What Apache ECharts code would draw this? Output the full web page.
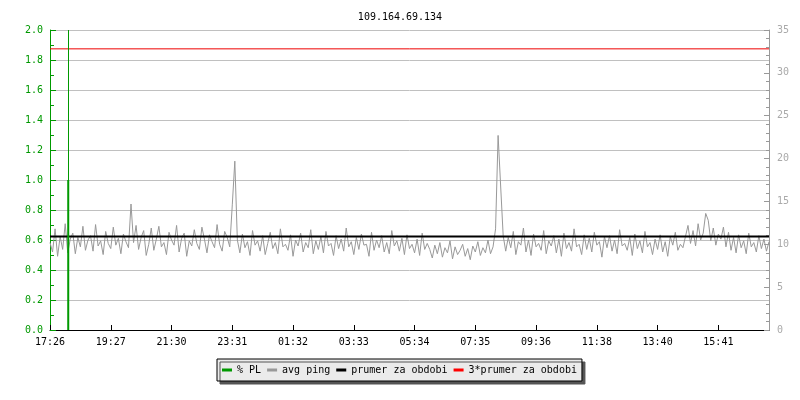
<!DOCTYPE html>
<html>
<head>
<meta charset="utf-8">
<script src="https://cdn.jsdelivr.net/npm/echarts@6/dist/echarts.min.js"></script>
<style>html,body{margin:0;padding:0;background:#fff}#c{width:800px;height:400px}</style>
</head>
<body>
<div id="c"></div>
<script>
var titleText = "109.164.69.134";
var xLabels = ["17:26","19:27","21:30","23:31","01:32","03:33","05:34","07:35","09:36","11:38","13:40","15:41"];
var stepMinutes = 5;
var xMaxMinutes = 1420;
// avg ping (ms), one sample every 5 minutes from 17:26
var avgPing = [
10.2,9.1,11.8,8.6,10.9,9.4,12.4,9.0,10.6,11.3,8.9,10.8,9.7,12.1,9.3,10.5,11.0,9.2,12.3,9.8,10.4,8.8,11.5,10.1,9.5,12.0,9.9,10.7,8.9,11.2,10.3,9.6,14.7,10.2,12.2,9.4,10.8,11.6,8.7,10.0,
11.9,9.3,10.6,12.1,9.7,10.2,8.8,11.4,10.5,9.9,12.2,9.1,10.7,11.3,8.6,10.4,9.8,11.7,10.1,9.4,12.0,10.6,9.0,11.1,10.3,9.6,12.3,10.0,9.2,11.5,10.8,9.7,
14.6,19.7,10.5,
9.0,11.2,9.6,10.3,8.7,11.6,9.9,10.4,9.2,11.0,
8.8,10.1,11.4,9.5,10.2,8.9,11.8,9.7,10.0,9.3,
11.1,8.6,10.5,9.8,11.3,9.1,10.2,9.6,11.7,8.9,
10.4,9.4,10.9,9.0,11.5,9.8,10.1,8.7,11.0,9.5,
10.6,9.2,11.9,9.7,10.3,8.8,10.8,9.4,11.2,9.9,
10.0,8.6,11.4,9.3,10.5,9.6,11.0,9.1,10.2,8.9,
11.6,9.8,10.4,9.2,10.7,8.8,11.1,9.5,10.0,9.0,
10.6,8.7,11.3,9.4,10.1,
9.4,8.4,9.9,8.9,10.2,8.5,9.6,9.0,10.4,8.3,9.7,8.8,9.3,10.0,8.6,9.5,8.2,9.8,9.1,10.3,8.7,9.6,9.0,10.5,8.9,9.7,
11.8,22.7,16.8,11.0,
9.2,10.8,9.6,11.5,8.8,10.3,9.9,11.9,9.1,10.5,
8.7,11.2,9.7,10.1,9.3,11.6,8.9,10.4,9.8,11.0,
9.0,10.6,8.6,11.3,9.5,10.2,9.2,11.8,9.7,10.0,
8.8,11.1,9.4,10.7,9.1,11.4,9.9,10.3,8.5,10.9,
9.6,11.0,9.2,10.5,8.9,11.7,9.8,10.1,9.3,10.8,
8.7,11.2,9.5,10.4,9.0,11.5,9.7,10.2,8.8,10.6,
9.4,11.1,9.1,10.3,8.6,10.9,9.9,11.4,9.3,10.0,9.6,
10.9,12.2,10.1,11.6,9.8,12.4,10.5,11.3,13.6,12.8,10.4,11.9,9.9,11.2,10.6,12.0,9.7,11.4,
9.3,10.8,9.0,11.1,9.6,10.4,8.9,11.3,9.7,10.2,9.1,11.0,9.5,10.6,9.2,10.3
];
var plTimes = [36];
var plValues = [1.0];
var prumer = 10.92;
var prumer3 = 32.8;

var pingData = avgPing.map(function(v,i){return [i*stepMinutes, v];});
var plData = plTimes.map(function(t,i){return [t, plValues[i]];});
var font = "DejaVu Sans Mono";
var green = "#009900";

var chart = echarts.init(document.getElementById('c'), null, {renderer:'canvas'});
chart.setOption({
  animation:false,
  backgroundColor:'#ffffff',
  title:{text:titleText,left:'center',top:7,textStyle:{fontFamily:font,fontSize:10,fontWeight:'normal',color:'#000'}},
  legend:{
    left:217, top:359, padding:[6,5,6,5], itemGap:6, itemWidth:10, itemHeight:3,
    backgroundColor:'#ebebeb', borderColor:'#000', borderWidth:1,
    shadowColor:'#555', shadowBlur:0, shadowOffsetX:3, shadowOffsetY:3,
    icon:'rect',
    textStyle:{fontFamily:font,fontSize:10,color:'#000'},
    data:['% PL','avg ping','prumer za obdobi','3*prumer za obdobi']
  },
  grid:{left:50,right:31,top:30,bottom:70},
  xAxis:{
    type:'value',min:0,max:xMaxMinutes,interval:120,
    axisLine:{lineStyle:{color:'#000',width:1}},
    axisTick:{inside:true,length:5,lineStyle:{color:'#000'}},
    splitLine:{show:false},
    axisLabel:{fontFamily:font,fontSize:10,color:'#000',margin:7,showMaxLabel:false,
      formatter:function(v){ if(v%120!==0) return ''; var k=v/120; return xLabels[k]||''; }}
  },
  yAxis:[
    {type:'value',min:0,max:2,interval:0.2,position:'left',
     axisLine:{show:true,lineStyle:{color:green,width:1}},
     axisTick:{show:true,inside:true,length:6,lineStyle:{color:green}},
     minorTick:{show:true,splitNumber:2,length:4,lineStyle:{color:green}},
     splitLine:{show:true,lineStyle:{color:'#c0c0c0',width:1}},
     axisLabel:{fontFamily:font,fontSize:10,color:green,margin:7,formatter:function(v){return v.toFixed(1);}}
    },
    {type:'value',min:0,max:35,interval:5,position:'right',
     axisLine:{show:true,lineStyle:{color:'#999',width:1}},
     axisTick:{show:true,inside:true,length:5,lineStyle:{color:'#999'}},
     minorTick:{show:true,splitNumber:5,length:3,lineStyle:{color:'#999'}},
     splitLine:{show:false},
     axisLabel:{fontFamily:font,fontSize:10,color:'#aaa',margin:8}
    }
  ],
  series:[
    {name:'avg ping',type:'line',yAxisIndex:1,data:pingData,showSymbol:false,symbol:'none',
     color:'#999999',lineStyle:{color:'#999999',width:1},z:2},
    {name:'prumer za obdobi',type:'line',yAxisIndex:1,data:[[0,prumer],[xMaxMinutes,prumer]],symbol:'none',
     color:'#000000',lineStyle:{color:'#000',width:2},z:3},
    {name:'3*prumer za obdobi',type:'line',yAxisIndex:1,data:[[0,prumer3],[xMaxMinutes,prumer3]],symbol:'none',
     color:'#ff0000',lineStyle:{color:'#ee0000',width:1},z:3},
    {name:'% PL',type:'bar',yAxisIndex:0,data:plData,barWidth:2,color:green,itemStyle:{color:green},z:4,
     markLine:{silent:true,symbol:'none',label:{show:false},lineStyle:{color:green,width:1,type:'solid'},
       data:[{xAxis:plTimes[0]}]}}
  ]
});
</script>
</body>
</html>
